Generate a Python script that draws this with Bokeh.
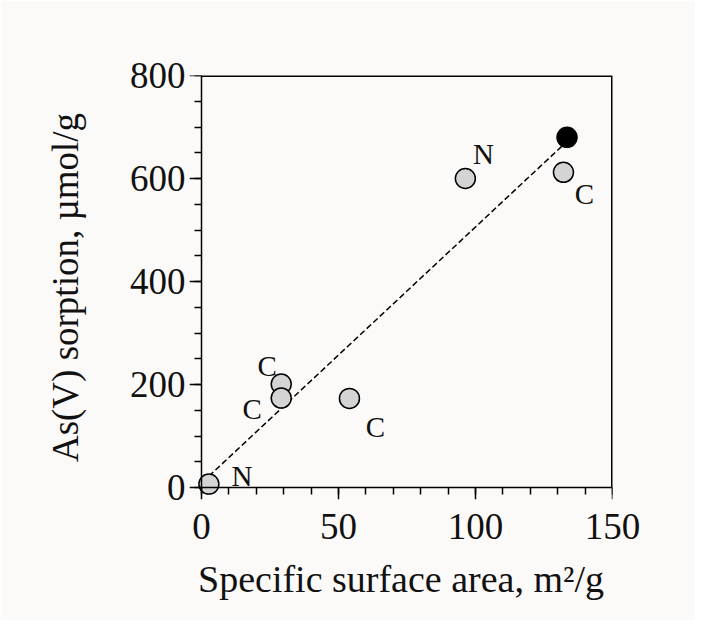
from bokeh.plotting import figure
from bokeh.models import ColumnDataSource, FixedTicker, Range1d, LinearAxis
from bokeh.core.properties import value
from bokeh.embed import file_html
from bokeh.resources import INLINE

# data
area = [2.7, 29.1, 29.1, 54.0, 96.3, 132.1]
sorption = [6.6, 201, 173.7, 173, 600, 612]
labels = ["N", "C", "C", "C", "N", "C"]
label_dx = [33, -14, -29, 26, 18, 21]
label_dy = [-8, -18, 11, 29, -25, 22]   # screen pixels, positive = down

black_area = [133.4]
black_sorption = [680]

fit_x = [2.7, 133.4]
fit_y = [22, 672]

x_ticks = [0, 50, 100, 150]
x_minor = list(range(0, 151, 10))
y_ticks = [0, 200, 400, 600, 800]
y_minor = list(range(0, 801, 50))

FONT = "Liberation Serif"
BG = "#fcfaf8"
INK = "#111111"

x_lo, x_hi = x_ticks[0], x_ticks[-1]
y_lo, y_hi = y_ticks[0], y_ticks[-1]

p = figure(frame_width=423, frame_height=424,
           x_range=Range1d(x_lo - 4.38, x_hi), y_range=Range1d(y_lo - 23.3, y_hi),
           output_backend="svg", toolbar_location=None,
           min_border_left=189, min_border_right=83,
           min_border_top=75, min_border_bottom=121,
           background_fill_color=BG, border_fill_color=BG)

p.grid.visible = False
p.outline_line_color = None

# label-only axes at the frame edges
p.xaxis.ticker = FixedTicker(ticks=x_ticks)
p.yaxis.ticker = FixedTicker(ticks=y_ticks)
for ax in (p.xaxis, p.yaxis):
    ax.axis_line_color = None
    ax.major_tick_line_color = None
    ax.minor_tick_line_color = None
    ax.major_tick_out = 0
    ax.minor_tick_out = 0
    ax.major_label_text_font = FONT
    ax.major_label_text_font_size = "37px"
    ax.major_label_text_color = INK
    ax.axis_label_text_font = FONT
    ax.axis_label_text_font_style = "normal"
    ax.axis_label_text_color = INK

p.xaxis.axis_label = "Specific surface area, m²/g"
p.yaxis.axis_label = "As(V) sorption, µmol/g"
p.xaxis.axis_label_text_font_size = "38px"
p.yaxis.axis_label_text_font_size = "37px"
p.xaxis.major_label_standoff = 14
p.yaxis.major_label_standoff = 4
p.xaxis.axis_label_standoff = 16
p.yaxis.axis_label_standoff = 41

# line+tick axes placed at x=0 and y=0
def line_axis(ticks, minor, loc, bounds):
    ax = LinearAxis(ticker=FixedTicker(ticks=ticks, minor_ticks=minor),
                    fixed_location=loc, bounds=bounds,
                    major_label_text_font_size="0px", major_label_text_color=None)
    ax.axis_line_width = 1.5
    ax.axis_line_color = "black"
    ax.major_tick_line_width = 1.5
    ax.minor_tick_line_width = 1.5
    ax.major_tick_line_color = "black"
    ax.minor_tick_line_color = "black"
    ax.major_tick_in = 0
    ax.major_tick_out = 12
    ax.minor_tick_in = 0
    ax.minor_tick_out = 7
    return ax

p.add_layout(line_axis(x_ticks, x_minor, y_lo, (x_lo, x_hi)), "below")
p.add_layout(line_axis(y_ticks, y_minor, x_lo, (y_lo, y_hi)), "left")

# top and right sides of the box (on the frame edge, half clipped)
p.line([x_lo, x_hi, x_hi], [y_hi, y_hi, y_lo], line_color="black", line_width=3)

p.line(fit_x, fit_y, line_color="black", line_width=1.5, line_dash="6 3")

src = ColumnDataSource(dict(x=area, y=sorption, t=labels, dx=label_dx, dy=label_dy))
p.scatter("x", "y", source=src, size=20, fill_color="#d4d4d4",
          line_color="black", line_width=1.5)
p.scatter(black_area, black_sorption, size=20, fill_color="black",
          line_color="black", line_width=1.5)

p.text("x", "y", text="t", source=src, x_offset="dx", y_offset="dy",
       text_font=value(FONT), text_font_size="29px", text_color=INK,
       text_align="center", text_baseline="middle")

open("out.html", "w").write(file_html(p, INLINE))
